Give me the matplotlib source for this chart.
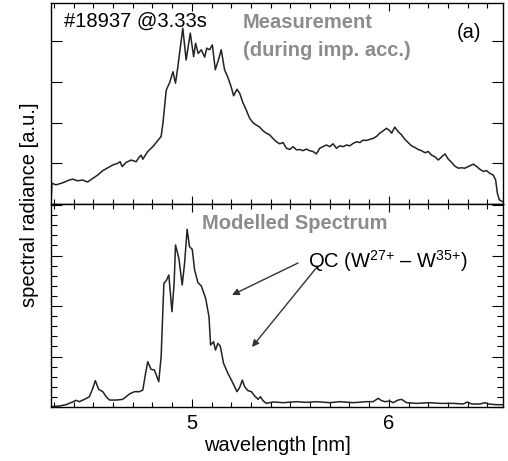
import numpy as np
import matplotlib
matplotlib.use("Agg")
import matplotlib.pyplot as plt
from matplotlib.ticker import MultipleLocator

plt.rcParams['font.family'] = ['Liberation Sans', 'DejaVu Sans']
plt.rcParams['mathtext.fontset'] = 'custom'
plt.rcParams['mathtext.rm'] = 'Liberation Sans'
plt.rcParams['mathtext.it'] = 'Liberation Sans:italic'

# measured spectrum (top panel), wavelength in nm, radiance in a.u.
meas_wl = [4.285, 4.290, 4.310, 4.344, 4.378, 4.395, 4.421, 4.446, 4.471, 4.497,
           4.522, 4.548, 4.573, 4.599, 4.624, 4.636, 4.646, 4.666, 4.692, 4.717,
           4.734, 4.743, 4.751, 4.776, 4.802, 4.827, 4.844, 4.853, 4.870, 4.887,
           4.904, 4.917, 4.929, 4.946, 4.954, 4.971, 4.992, 5.009, 5.019, 5.032,
           5.048, 5.065, 5.076, 5.090, 5.104, 5.119, 5.136, 5.149, 5.166, 5.183,
           5.200, 5.212, 5.229, 5.243, 5.259, 5.276, 5.293, 5.310, 5.327, 5.344,
           5.361, 5.378, 5.395, 5.412, 5.429, 5.446, 5.463, 5.480, 5.497, 5.514,
           5.531, 5.548, 5.564, 5.581, 5.598, 5.615, 5.632, 5.649, 5.666, 5.683,
           5.700, 5.717, 5.734, 5.751, 5.768, 5.785, 5.802, 5.819, 5.836, 5.853,
           5.869, 5.886, 5.903, 5.920, 5.937, 5.954, 5.971, 5.988, 6.005, 6.014,
           6.030, 6.047, 6.064, 6.081, 6.098, 6.115, 6.132, 6.149, 6.166, 6.183,
           6.200, 6.217, 6.234, 6.251, 6.268, 6.285, 6.302, 6.319, 6.335, 6.352,
           6.369, 6.386, 6.403, 6.429, 6.446, 6.463, 6.480, 6.496, 6.513, 6.530,
           6.542, 6.551, 6.561, 6.578]
meas_val = [0.06, 0.51, 0.47, 0.52, 0.59, 0.61, 0.57, 0.59, 0.54, 0.63,
            0.71, 0.82, 0.89, 0.96, 1.00, 1.04, 0.92, 1.02, 1.08, 1.04,
            1.16, 1.20, 1.10, 1.29, 1.41, 1.56, 1.66, 1.98, 2.80, 2.98,
            3.25, 2.97, 3.38, 4.03, 4.32, 3.54, 4.20, 3.62, 3.95, 3.70,
            3.79, 3.61, 3.83, 3.79, 3.91, 3.30, 3.56, 3.79, 3.30, 3.11,
            2.87, 2.66, 2.82, 2.72, 2.49, 2.31, 2.11, 2.00, 1.94, 1.89,
            1.80, 1.74, 1.70, 1.61, 1.53, 1.48, 1.51, 1.37, 1.34, 1.41,
            1.33, 1.34, 1.31, 1.35, 1.31, 1.29, 1.23, 1.37, 1.41, 1.45,
            1.41, 1.48, 1.37, 1.43, 1.41, 1.45, 1.43, 1.49, 1.53, 1.51,
            1.57, 1.56, 1.59, 1.61, 1.66, 1.74, 1.80, 1.86, 1.80, 1.74,
            1.89, 1.78, 1.70, 1.59, 1.51, 1.43, 1.39, 1.34, 1.31, 1.26,
            1.29, 1.20, 1.16, 1.08, 1.16, 1.23, 1.10, 1.02, 0.93, 0.88,
            0.89, 0.88, 0.92, 0.98, 0.92, 0.85, 0.80, 0.82, 0.75, 0.71,
            0.59, 0.26, 0.10, 0.06]

# modelled spectrum (bottom panel)
model_wl = [4.285, 4.327, 4.361, 4.395, 4.412, 4.429, 4.455, 4.480, 4.497, 4.510,
            4.527, 4.548, 4.565, 4.582, 4.616, 4.649, 4.666, 4.683, 4.709, 4.734,
            4.751, 4.765, 4.776, 4.793, 4.810, 4.832, 4.844, 4.858, 4.870, 4.883,
            4.899, 4.910, 4.917, 4.934, 4.951, 4.963, 4.976, 4.988, 5.002, 5.014,
            5.031, 5.048, 5.070, 5.087, 5.095, 5.110, 5.120, 5.132, 5.144, 5.161,
            5.183, 5.209, 5.229, 5.243, 5.256, 5.268, 5.285, 5.302, 5.319, 5.336,
            5.348, 5.361, 5.378, 5.412, 5.463, 5.531, 5.581, 5.632, 5.700, 5.751,
            5.819, 5.886, 5.920, 5.946, 5.963, 5.980, 6.005, 6.022, 6.047, 6.064,
            6.090, 6.141, 6.208, 6.259, 6.327, 6.378, 6.398, 6.420, 6.463, 6.488,
            6.505, 6.547, 6.578]
model_val = [0.03, 0.10, 0.23, 0.50, 0.66, 0.53, 0.76, 1.02, 1.85, 2.61,
             1.75, 1.52, 1.02, 0.69, 0.69, 0.76, 1.02, 1.29, 1.52, 1.52,
             1.68, 3.33, 4.49, 3.73, 3.66, 2.51, 4.98, 12.24, 12.51, 13.07,
             9.44, 12.24, 16.04, 14.72, 12.08, 14.22, 17.59, 15.87, 15.61, 13.56,
             12.31, 11.98, 10.76, 8.94, 6.14, 6.47, 5.64, 6.30, 6.04, 4.32,
             3.33, 2.34, 1.52, 1.95, 2.67, 2.01, 1.62, 1.52, 1.09, 0.76,
             1.02, 0.63, 0.36, 0.50, 0.43, 0.53, 0.46, 0.53, 0.43, 0.53,
             0.43, 0.53, 0.53, 0.86, 0.63, 0.53, 0.59, 0.43, 0.69, 0.76,
             0.43, 0.36, 0.43, 0.36, 0.36, 0.30, 0.50, 0.30, 0.30, 0.43,
             0.30, 0.23, 0.23]

xlim = (4.285, 6.58)
xticks = [5, 6]
gray = '#8c8c8c'
fs = 14.5

fig = plt.figure(figsize=(5.08, 4.61), dpi=100)
ax1 = fig.add_axes([0.1004, 0.5575, 0.890, 0.436])
ax2 = fig.add_axes([0.1004, 0.1171, 0.890, 0.4404])

ax1.plot(meas_wl, meas_val, color='#222222', lw=1.1, solid_joinstyle='round')
ax2.plot(model_wl, model_val, color='#222222', lw=1.1, solid_joinstyle='round')

ax1.set_ylim(0, 4.94)
ax2.set_ylim(0, 20.1)
for ax in (ax1, ax2):
    ax.set_xlim(*xlim)
    ax.set_xticks(xticks)
    ax.xaxis.set_minor_locator(MultipleLocator(0.1))
    ax.tick_params(which='both', direction='in', top=True, right=True,
                   width=0.8, labelsize=fs, colors='black')
    ax.tick_params(which='major', length=6)
    ax.tick_params(which='minor', length=3.5)
    for s in ax.spines.values():
        s.set_linewidth(1.0)

ax1.yaxis.set_major_locator(MultipleLocator(1))
ax1.tick_params(axis='y', which='major', length=8)
ax1.set_xticklabels([])
ax1.set_yticklabels([])

ax2.yaxis.set_major_locator(MultipleLocator(5))
ax2.yaxis.set_minor_locator(MultipleLocator(1))
ax2.tick_params(axis='y', which='major', length=8)
ax2.tick_params(axis='y', which='minor', length=4.5)
ax2.set_xticklabels(['5', '6'])
ax2.set_yticklabels([])
ax2.tick_params(axis='x', pad=5)

ax2.set_xlabel('wavelength [nm]', fontsize=fs, labelpad=2)
fig.text(30 / 508, 1 - 205 / 461, 'spectral radiance [a.u.]', fontsize=fs,
         rotation=90, ha='center', va='center')

W, H = 508, 461
fig.text(64 / W, 1 - 21 / H, '#18937 @3.33s', fontsize=fs, ha='left', va='center')
fig.text(243 / W, 1 - 22 / H, 'Measurement', fontsize=fs, color=gray,
         fontweight='bold', ha='left', va='center')
fig.text(243 / W, 1 - 50 / H, '(during imp. acc.)', fontsize=fs, color=gray,
         fontweight='bold', ha='left', va='center')
fig.text(469 / W, 1 - 32 / H, '(a)', fontsize=fs, ha='center', va='center')
fig.text(295 / W, 1 - 223 / H, 'Modelled Spectrum', fontsize=fs, color=gray,
         fontweight='bold', ha='center', va='center')
fig.text(308 / W, 1 - 261 / H, 'QC (W$^{27{+}}$ – W$^{35{+}}$)', fontsize=fs,
         ha='left', va='center')

arrow = dict(arrowstyle='-|>', color='#333333', lw=1.0, mutation_scale=10,
             shrinkA=0, shrinkB=0)
fig.add_artist(plt.Annotation('', xy=(232 / W, 1 - 295 / H), xytext=(298 / W, 1 - 263 / H),
                              xycoords='figure fraction', textcoords='figure fraction',
                              arrowprops=arrow))
fig.add_artist(plt.Annotation('', xy=(252 / W, 1 - 347 / H), xytext=(317 / W, 1 - 267 / H),
                              xycoords='figure fraction', textcoords='figure fraction',
                              arrowprops=arrow))

fig.savefig('out.png', dpi=100)
